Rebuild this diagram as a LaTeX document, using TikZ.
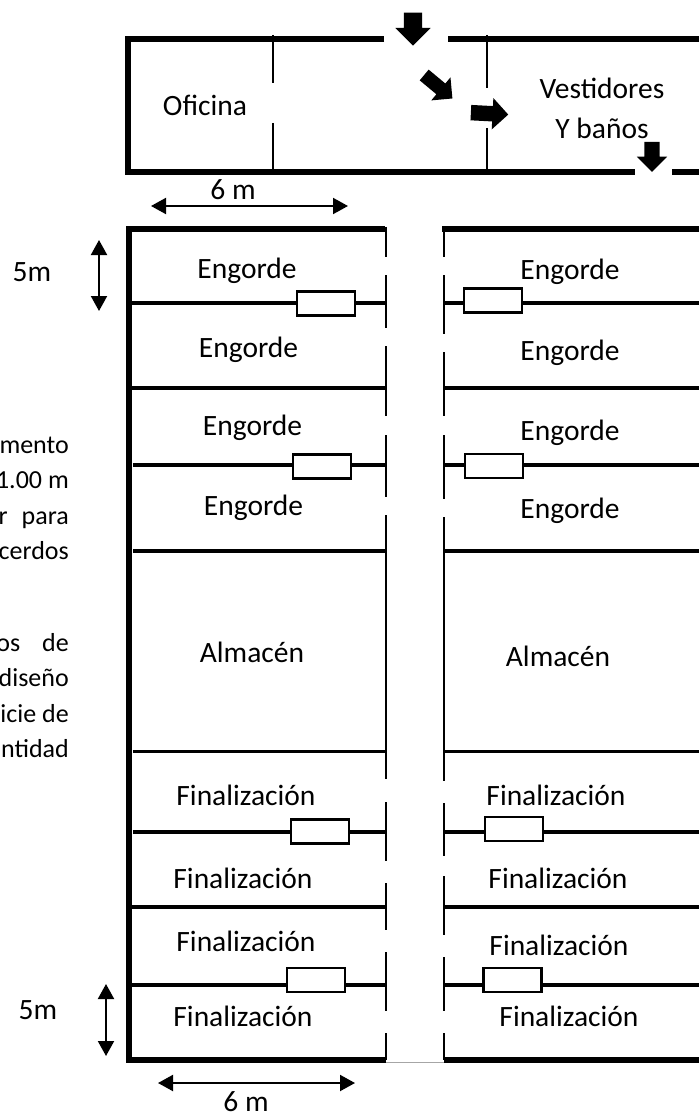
\documentclass[tikz,border=0pt]{standalone}
\usepackage{fontspec}
\setmainfont{Carlito}
\usepackage{tikz}
\usetikzlibrary{arrows.meta, shapes.arrows}

\tikzset{
  room/.style={font=\fontsize{29.5}{34}\selectfont, inner sep=0pt},
  note/.style={font=\fontsize{26}{35.3}\selectfont, inner sep=0pt, align=right, anchor=east},
  outerwall/.style={draw=black, line width=6pt},
  penwall/.style={draw=black, line width=3.5pt},
  thinwall/.style={draw=black, line width=2pt},
  feeder/.style={draw=black, line width=2.2pt, fill=white, rectangle, inner sep=0pt, minimum width=58pt, minimum height=24pt},
  door/.style={fill=black, single arrow, inner xsep=0pt, single arrow head extend=#1},
  measure/.style={draw=black, line width=2pt, {Triangle[length=15pt,width=16pt]}-{Triangle[length=15pt,width=16pt]}}
}

\begin{document}
\begin{tikzpicture}[x=1pt, y=-1pt]
\useasboundingbox (0,0) rectangle (699,1115);
% upper building
\draw [outerwall] (384,39) -- (128,39) -- (128,172) -- (635,172);
\draw [outerwall] (448,39) -- (699,39);
\draw [outerwall] (672,172) -- (699,172);
\draw [thinwall] (273,35) -- (273,83);
\draw [thinwall] (273,123) -- (273,172);
\draw [thinwall] (486.5,35) -- (486.5,88);
\draw [thinwall] (486.5,128) -- (486.5,172);
\node[room] (oficina) at (205,105) {Oficina};
\node[room] (vestidores) at (602,88) {Vestidores};
\node[room] (banos) at (602,128) {Y baños};
% doors
\node[door=8.5pt, inner ysep=9pt, minimum height=33pt, rotate=-90] (doorTop) at (413,24.5) {};
\node[door=8pt, inner ysep=6.8pt, minimum height=36.7pt, rotate=-39.8] (doorMid) at (435.6,84.5) {};
\node[door=8pt, inner ysep=7.5pt, minimum height=37.4pt, rotate=-3] (doorBath) at (485.7,113.4) {};
\node[door=7.5pt, inner ysep=7.5pt, minimum height=30pt, rotate=-90] (doorOut) at (652,153) {};
% lower building
\draw [outerwall] (385,229) -- (129,229) -- (129,1060) -- (386,1060);
\draw [outerwall] (442,229) -- (699,229);
\draw [outerwall] (444,1060) -- (699,1060);
\draw [draw=black!35, line width=0.6pt] (386,1062) -- (444,1062);
% corridor, left side
\draw [thinwall] (386,227) -- (386,257);
\draw [thinwall] (386,275) -- (386,328);
\draw [thinwall] (386,346) -- (386,416);
\draw [thinwall] (386,435) -- (386,497);
\draw [thinwall] (386,515) -- (386,779);
\draw [thinwall] (386,802) -- (386,861);
\draw [thinwall] (386,883) -- (386,930);
\draw [thinwall] (386,952) -- (386,1011);
\draw [thinwall] (386,1033) -- (386,1060);
% corridor, right side
\draw [thinwall] (443.5,227) -- (443.5,257);
\draw [thinwall] (443.5,275) -- (443.5,334);
\draw [thinwall] (443.5,352) -- (443.5,416);
\draw [thinwall] (443.5,435) -- (443.5,499);
\draw [thinwall] (443.5,517) -- (443.5,781);
\draw [thinwall] (443.5,803) -- (443.5,856);
\draw [thinwall] (443.5,876) -- (443.5,935);
\draw [thinwall] (443.5,957) -- (443.5,1011);
\draw [thinwall] (443.5,1033) -- (443.5,1060);
% pens
\draw [penwall] (132,303) -- (386,303);
\draw [penwall] (132,388) -- (386,388);
\draw [penwall] (133,465) -- (386,465);
\draw [penwall] (133,551) -- (386,551);
\draw [penwall] (133,751.5) -- (386,751.5);
\draw [penwall] (133,832) -- (386,832);
\draw [penwall] (132,907) -- (386,907);
\draw [penwall] (132,985) -- (386,985);
\draw [penwall] (443.5,303) -- (699,303);
\draw [penwall] (443.5,388) -- (699,388);
\draw [penwall] (443.5,465) -- (699,465);
\draw [penwall] (443.5,551) -- (699,551);
\draw [penwall] (443.5,751.5) -- (699,751.5);
\draw [penwall] (443.5,832) -- (699,832);
\draw [penwall] (443.5,907) -- (699,907);
\draw [penwall] (443.5,985) -- (699,985);
% feeders
\node[feeder] (feederA) at (326,303.5) {};
\node[feeder] (feederB) at (322,466.5) {};
\node[feeder] (feederC) at (320,831.5) {};
\node[feeder] (feederD) at (316,980) {};
\node[feeder] (feederE) at (493,300.5) {};
\node[feeder] (feederF) at (494,466) {};
\node[feeder] (feederG) at (514,829) {};
\node[feeder] (feederH) at (512.5,980) {};
% labels, left side
\node[room] (engordeA) at (247,271) {Engorde};
\node[room] (engordeB) at (248.5,350) {Engorde};
\node[room] (engordeC) at (252.5,428) {Engorde};
\node[room] (engordeD) at (253.5,508) {Engorde};
\node[room] (almacenA) at (252,652) {Almacén};
\node[room] (finalA) at (246,795) {Finalización};
\node[room] (finalB) at (243,878) {Finalización};
\node[room] (finalC) at (246,941) {Finalización};
\node[room] (finalD) at (243,1016) {Finalización};
% labels, right side
\node[room] (engordeE) at (570,272) {Engorde};
\node[room] (engordeF) at (570,353) {Engorde};
\node[room] (engordeG) at (570,433) {Engorde};
\node[room] (engordeH) at (570,511) {Engorde};
\node[room] (almacenB) at (558,656) {Almacén};
\node[room] (finalE) at (556,795) {Finalización};
\node[room] (finalF) at (558,878) {Finalización};
\node[room] (finalG) at (559,945) {Finalización};
\node[room] (finalH) at (569,1016) {Finalización};
% text cut off at the margin
\node[note] (noteA) at (69,498.5) {mento\\1.00 m\\r\hspace{14pt}para\\cerdos};
\node[note] (noteB) at (69,695.5) {os\hspace{22pt}de\\diseño\\icie de\\ntidad};
% measures
\coordinate (widthTopL) at (151,206);
\coordinate (widthTopR) at (348,206);
\coordinate (widthLowL) at (158,1083);
\coordinate (widthLowR) at (355,1083);
\coordinate (depthTopA) at (99,240);
\coordinate (depthTopB) at (99,311);
\coordinate (depthLowA) at (106,984);
\coordinate (depthLowB) at (106,1056);
\draw [measure] (widthTopL) -- (widthTopR);
\draw [measure] (widthLowL) -- (widthLowR);
\draw [measure] (depthTopA) -- (depthTopB);
\draw [measure] (depthLowA) -- (depthLowB);
\node[room] (labelTopW) at (233,190) {6 m};
\node[room] (labelLowW) at (246,1102) {6 m};
\node[room] (labelTopD) at (32,272) {5m};
\node[room] (labelLowD) at (38,1010) {5m};
\end{tikzpicture}
\end{document}
